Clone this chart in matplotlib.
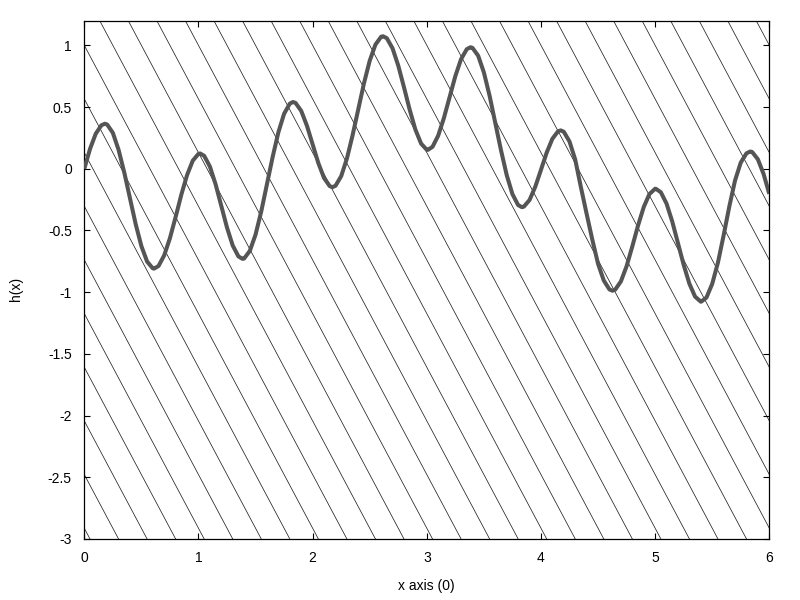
import matplotlib
matplotlib.use("Agg")
import matplotlib.pyplot as plt
from matplotlib.ticker import FuncFormatter

h_x = [0.00, 0.05, 0.10, 0.15, 0.18, 0.20, 0.25, 0.30, 0.35, 0.40, 0.45,
       0.50, 0.55, 0.60, 0.611, 0.65, 0.70, 0.75, 0.80, 0.85, 0.90, 0.95,
       1.00, 1.015, 1.05, 1.10, 1.15, 1.20, 1.25, 1.30, 1.35, 1.386, 1.40, 1.45,
       1.50, 1.55, 1.60, 1.65, 1.70, 1.75, 1.80, 1.828, 1.85, 1.90, 1.95,
       2.00, 2.05, 2.10, 2.15, 2.173, 2.20, 2.25, 2.30, 2.35, 2.40, 2.45,
       2.50, 2.55, 2.60, 2.617, 2.65, 2.70, 2.75, 2.80, 2.85, 2.90, 2.95,
       3.00, 3.009, 3.05, 3.10, 3.15, 3.20, 3.25, 3.30, 3.35, 3.383, 3.40, 3.45,
       3.50, 3.55, 3.60, 3.65, 3.70, 3.75, 3.80, 3.833, 3.85, 3.90, 3.95,
       4.00, 4.05, 4.10, 4.15, 4.173, 4.20, 4.25, 4.30, 4.35, 4.40, 4.45,
       4.50, 4.55, 4.60, 4.626, 4.65, 4.70, 4.75, 4.80, 4.85, 4.90, 4.95,
       5.00, 5.006, 5.05, 5.10, 5.15, 5.20, 5.25, 5.30, 5.35, 5.40, 5.404, 5.45,
       5.50, 5.55, 5.60, 5.65, 5.70, 5.75, 5.80, 5.833, 5.85, 5.90, 5.95,
       6.00]
h_y = [0.000, 0.161, 0.284, 0.353, 0.365, 0.359, 0.291, 0.154, -0.030, -0.241, -0.449,
       -0.627, -0.752, -0.807, -0.809, -0.788, -0.701, -0.562, -0.390, -0.209, -0.051, 0.066,
       0.121, 0.124, 0.105, 0.018, -0.126, -0.302, -0.477, -0.622, -0.710, -0.730, -0.727, -0.665,
       -0.533, -0.345, -0.126, 0.097, 0.296, 0.446, 0.528, 0.541, 0.534, 0.469, 0.349,
       0.197, 0.046, -0.075, -0.141, -0.149, -0.138, -0.060, 0.082, 0.272, 0.484, 0.694,
       0.876, 1.006, 1.070, 1.074, 1.058, 0.976, 0.836, 0.661, 0.479, 0.318, 0.204,
       0.154, 0.153, 0.178, 0.269, 0.412, 0.583, 0.751, 0.888, 0.969, 0.985, 0.980, 0.916,
       0.781, 0.592, 0.373, 0.150, -0.051, -0.205, -0.294, -0.311, -0.307, -0.253, -0.146,
       -0.009, 0.131, 0.243, 0.304, 0.311, 0.300, 0.221, 0.075, -0.150, -0.365, -0.575,
       -0.770, -0.905, -0.978, -0.988, -0.980, -0.913, -0.790, -0.630, -0.461, -0.311, -0.205,
       -0.162, -0.162, -0.190, -0.282, -0.427, -0.601, -0.778, -0.931, -1.036, -1.077, -1.077, -1.043,
       -0.933, -0.761, -0.540, -0.305, -0.095, 0.050, 0.125, 0.140, 0.136, 0.077, -0.042,
       -0.203]

x_ticks = [0, 1, 2, 3, 4, 5, 6]
y_ticks = [-3, -2.5, -2, -1.5, -1, -0.5, 0, 0.5, 1]

# fill pattern: parallel lines y = c + slope*x, one every 0.4348 in y at x=0
pattern_slope = -1.739
pattern_step = 0.4348

plt.rcParams['font.family'] = ['Liberation Sans', 'DejaVu Sans']
plt.rcParams['axes.unicode_minus'] = False

fig = plt.figure(figsize=(8, 6), dpi=100)
ax = fig.add_axes([0.1054, 0.1017, 0.8562, 0.8638])

for k in range(-10, 27):
    ax.axline((0, 1 + k * pattern_step), slope=pattern_slope,
              color='#222222', lw=0.55, zorder=1)

ax.plot(h_x, h_y, color='#555555', lw=2.9, zorder=3,
        solid_capstyle='butt', solid_joinstyle='round')

ax.set_xlim(0, 6)
ax.set_ylim(-3, 1.2)
ax.set_xticks(x_ticks)
ax.set_yticks(y_ticks)
fmt = FuncFormatter(lambda v, p: '%g' % v)
ax.xaxis.set_major_formatter(fmt)
ax.yaxis.set_major_formatter(fmt)
ax.tick_params(direction='in', length=4.5, width=0.8, top=True, right=True,
               labelsize=10, colors='black')
ax.tick_params(axis='y', pad=9)
ax.tick_params(axis='x', pad=9)
for s in ax.spines.values():
    s.set_linewidth(0.9)

ax.set_xlabel('x axis (0)', fontsize=10)
ax.set_ylabel('h(x)', fontsize=10)
ax.xaxis.set_label_coords(0.5, -0.077)
ax.yaxis.set_label_coords(-0.09, 0.482)

fig.savefig('out.png', dpi=100)
